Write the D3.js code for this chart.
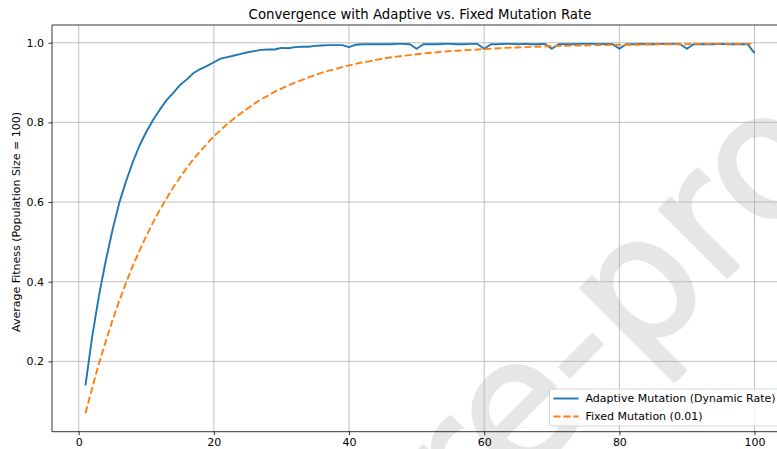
<!DOCTYPE html>
<html>
<head>
<meta charset="utf-8">
<script src="https://cdn.jsdelivr.net/npm/d3@7"></script>
<style>
  body { margin: 0; background: #fff; }
  svg { display: block; font-family: "DejaVu Sans", sans-serif; }
</style>
</head>
<body>
<svg id="chart" width="777" height="449"></svg>
<script>
// Données (génération 1 à 100)
const generations = d3.range(1, 101);

const adaptiveFitness = [
  0.140, 0.262, 0.365, 0.452, 0.530, 0.598, 0.652, 0.700, 0.742, 0.776,
  0.806, 0.832, 0.856, 0.874, 0.894, 0.908, 0.924, 0.934, 0.942, 0.951,
  0.960, 0.964, 0.968, 0.972, 0.976, 0.979, 0.982, 0.983, 0.983, 0.987,
  0.986, 0.989, 0.990, 0.990, 0.992, 0.993, 0.994, 0.994, 0.994, 0.989,
  0.995, 0.996, 0.996, 0.996, 0.996, 0.996, 0.997, 0.997, 0.996, 0.985,
  0.996, 0.996, 0.996, 0.997, 0.997, 0.996, 0.996, 0.997, 0.997, 0.985,
  0.996, 0.996, 0.997, 0.997, 0.996, 0.997, 0.996, 0.996, 0.997, 0.985,
  0.996, 0.996, 0.996, 0.997, 0.997, 0.997, 0.996, 0.997, 0.996, 0.985,
  0.996, 0.996, 0.997, 0.996, 0.996, 0.997, 0.997, 0.997, 0.996, 0.985,
  0.996, 0.996, 0.996, 0.996, 0.997, 0.996, 0.996, 0.996, 0.996, 0.974
];

const fixedFitness = [
  0.070, 0.133, 0.195, 0.250, 0.303, 0.352, 0.397, 0.440, 0.478, 0.515,
  0.549, 0.580, 0.609, 0.637, 0.662, 0.686, 0.708, 0.728, 0.747, 0.765,
  0.781, 0.796, 0.810, 0.823, 0.835, 0.847, 0.858, 0.867, 0.877, 0.885,
  0.893, 0.900, 0.906, 0.913, 0.919, 0.925, 0.930, 0.934, 0.939, 0.943,
  0.947, 0.951, 0.953, 0.957, 0.960, 0.963, 0.965, 0.967, 0.969, 0.971,
  0.973, 0.975, 0.976, 0.978, 0.979, 0.980, 0.981, 0.982, 0.983, 0.984,
  0.985, 0.986, 0.987, 0.988, 0.988, 0.989, 0.990, 0.990, 0.991, 0.991,
  0.992, 0.992, 0.993, 0.993, 0.993, 0.994, 0.994, 0.994, 0.995, 0.995,
  0.995, 0.995, 0.995, 0.996, 0.996, 0.996, 0.996, 0.996, 0.996, 0.996,
  0.997, 0.997, 0.997, 0.997, 0.997, 0.997, 0.997, 0.997, 0.997, 0.997
];

const xTicks = [0, 20, 40, 60, 80, 100];
const yTicks = [0.2, 0.4, 0.6, 0.8, 1.0];

const series = [
  { name: "Adaptive Mutation (Dynamic Rate)", values: adaptiveFitness, color: "#1f77b4", dash: null },
  { name: "Fixed Mutation (0.01)", values: fixedFitness, color: "#ff7f0e", dash: "7,3" }
];

const svg = d3.select("#chart");
const plot = { left: 52, right: 788, top: 25, bottom: 431.7 };

const x = d3.scaleLinear().domain([-3.95, 104.95]).range([plot.left, plot.right]);
const y = d3.scaleLinear().domain([0.0235, 1.0445]).range([plot.bottom, plot.top]);

// Filigrane (sous la grille)
svg.append("text")
  .attr("transform", "translate(468.5,536) rotate(-45)")
  .attr("font-size", 175)
  .attr("fill", "#e6e6e6")
  .attr("stroke", "#e6e6e6")
  .attr("stroke-width", 3)
  .attr("stroke-linejoin", "round")
  .text("re-pro");

// Grille
const grid = svg.append("g").attr("stroke", "#b0b0b0").attr("stroke-width", 0.8);
xTicks.forEach(t => grid.append("line")
  .attr("x1", x(t)).attr("x2", x(t)).attr("y1", plot.top).attr("y2", plot.bottom));
yTicks.forEach(t => grid.append("line")
  .attr("x1", plot.left).attr("x2", plot.right).attr("y1", y(t)).attr("y2", y(t)));

// Axes
const xAxis = d3.axisBottom(x).tickValues(xTicks).tickSize(3.5).tickPadding(3.5).tickFormat(d3.format("d"));
const yAxis = d3.axisLeft(y).tickValues(yTicks).tickSize(3.5).tickPadding(4.5).tickFormat(d3.format(".1f"));

svg.append("g").attr("transform", `translate(0,${plot.bottom})`).call(xAxis)
  .call(g => g.select(".domain").remove());
svg.append("g").attr("transform", `translate(${plot.left},0)`).call(yAxis)
  .call(g => g.select(".domain").remove());

svg.selectAll(".tick text").attr("font-size", 11).attr("font-family", "DejaVu Sans").attr("fill", "#000");
svg.selectAll(".tick line").attr("stroke", "#000").attr("stroke-width", 0.8);

// Bordures (spines)
svg.append("line").attr("x1", plot.left).attr("x2", plot.left).attr("y1", plot.top).attr("y2", plot.bottom)
  .attr("stroke", "#000").attr("stroke-width", 0.8);
svg.append("line").attr("x1", plot.left).attr("x2", plot.right).attr("y1", plot.bottom).attr("y2", plot.bottom)
  .attr("stroke", "#000").attr("stroke-width", 0.8);
svg.append("line").attr("x1", plot.left).attr("x2", plot.right).attr("y1", plot.top).attr("y2", plot.top)
  .attr("stroke", "#000").attr("stroke-width", 0.8);

// Courbes
const line = d3.line()
  .x((d, i) => x(generations[i]))
  .y(d => y(d));

series.forEach(s => {
  svg.append("path")
    .datum(s.values)
    .attr("d", line)
    .attr("fill", "none")
    .attr("stroke", s.color)
    .attr("stroke-width", 1.9)
    .attr("stroke-dasharray", s.dash)
    .attr("stroke-linejoin", "round");
});

// Titres
svg.append("text")
  .attr("x", (plot.left + plot.right) / 2)
  .attr("y", 19)
  .attr("text-anchor", "middle")
  .attr("font-size", 13.3)
  .text("Convergence with Adaptive vs. Fixed Mutation Rate");

svg.append("text")
  .attr("transform", "translate(19.5,222) rotate(-90)")
  .attr("text-anchor", "middle")
  .attr("font-size", 11)
  .text("Average Fitness (Population Size = 100)");

// Légende
const legend = svg.append("g").attr("transform", "translate(549.5,389)");
legend.append("rect")
  .attr("width", 240).attr("height", 37).attr("rx", 2)
  .attr("fill", "#fff").attr("fill-opacity", 0.8)
  .attr("stroke", "#cccccc").attr("stroke-width", 0.8);

series.forEach((s, i) => {
  const row = legend.append("g").attr("transform", `translate(0,${9.5 + i * 18})`);
  row.append("line")
    .attr("x1", 4).attr("x2", 29)
    .attr("stroke", s.color).attr("stroke-width", 1.9)
    .attr("stroke-dasharray", s.dash);
  row.append("text")
    .attr("x", 36).attr("dy", "0.35em")
    .attr("font-size", 11)
    .text(s.name);
});
</script>
</body>
</html>
